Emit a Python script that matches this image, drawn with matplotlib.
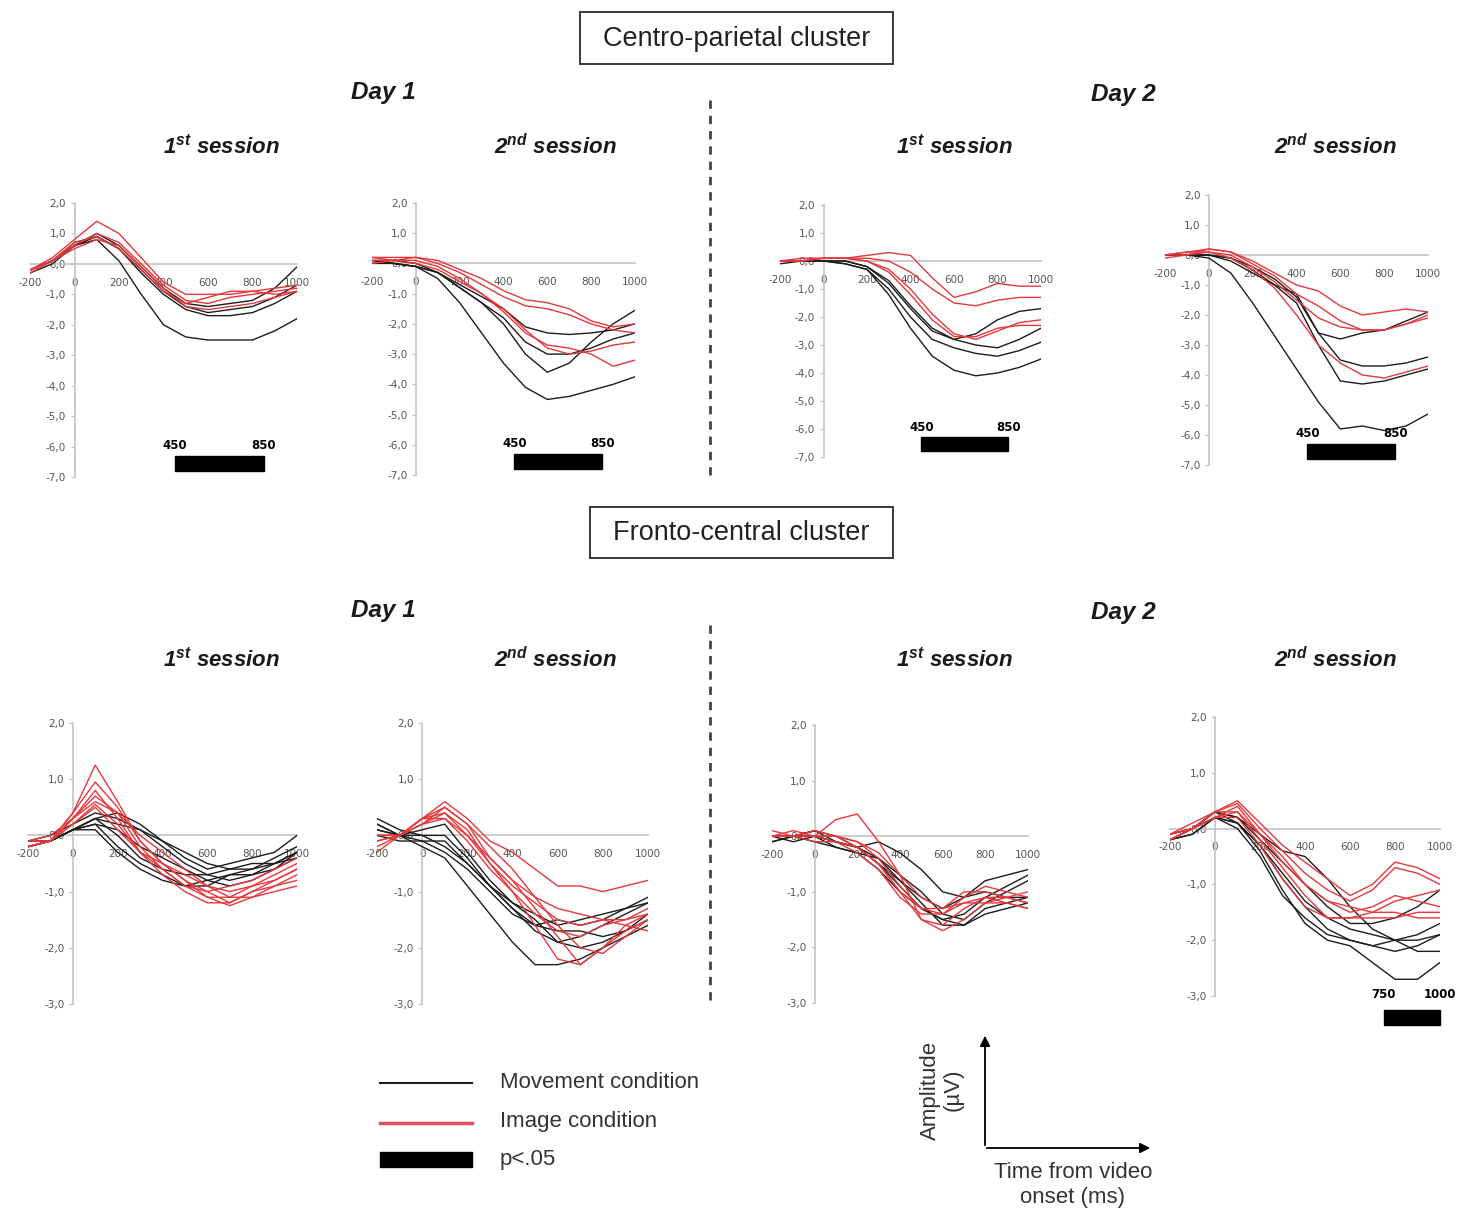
import numpy as np
import matplotlib
matplotlib.use('Agg')
import matplotlib.pyplot as plt
from matplotlib.patches import Rectangle, FancyArrowPatch
from matplotlib.lines import Line2D
from matplotlib.ticker import FuncFormatter

plt.rcParams['font.family'] = ['Liberation Sans', 'DejaVu Sans']
plt.rcParams['mathtext.fontset'] = 'custom'
plt.rcParams['mathtext.bf'] = 'Liberation Sans:italic:bold'
plt.rcParams['mathtext.rm'] = 'Liberation Sans'
plt.rcParams['axes.unicode_minus'] = False

W, H = 1466, 1217

# time axis (ms)
times = [-200, -100, 0, 100, 200, 300, 400, 500, 600, 700, 800, 900, 1000]

# ---- Centro-parietal cluster ----
cp_d1s1_move = [
    [-0.2, 0.1, 0.6, 0.8, 0.1, -1.0, -2.0, -2.4, -2.5, -2.5, -2.5, -2.2, -1.8],
    [-0.2, 0.1, 0.6, 0.9, 0.5, -0.3, -1.0, -1.5, -1.7, -1.7, -1.6, -1.3, -0.9],
    [-0.3, 0.0, 0.6, 1.0, 0.6, -0.1, -0.8, -1.3, -1.4, -1.3, -1.2, -0.8, -0.1],
    [-0.2, 0.1, 0.7, 0.9, 0.5, -0.2, -0.9, -1.4, -1.6, -1.5, -1.4, -1.1, -0.7],
]
cp_d1s1_image = [
    [-0.2, 0.2, 0.8, 1.4, 1.0, 0.2, -0.6, -1.0, -1.0, -1.0, -0.9, -0.8, -0.7],
    [-0.3, 0.1, 0.6, 1.0, 0.7, 0.0, -0.7, -1.2, -1.3, -1.1, -1.0, -0.9, -0.8],
    [-0.2, 0.1, 0.7, 0.9, 0.5, -0.2, -0.9, -1.3, -1.1, -0.9, -0.9, -1.0, -0.9],
    [-0.2, 0.1, 0.5, 0.8, 0.6, -0.1, -0.8, -1.4, -1.5, -1.4, -1.3, -1.1, -0.9],
]
cp_d1s2_move = [
    [0.1, 0.0, -0.1, -0.5, -1.3, -2.3, -3.3, -4.1, -4.5, -4.4, -4.2, -4.0, -3.75],
    [0.1, 0.0, -0.1, -0.3, -0.8, -1.3, -2.0, -3.0, -3.6, -3.3, -2.6, -2.0, -1.55],
    [0.0, 0.0, -0.1, -0.3, -0.7, -1.1, -1.5, -2.1, -2.3, -2.35, -2.3, -2.2, -2.0],
    [0.1, 0.1, 0.0, -0.3, -0.8, -1.3, -1.8, -2.6, -3.0, -3.0, -2.8, -2.5, -2.3],
]
cp_d1s2_image = [
    [0.2, 0.2, 0.2, 0.1, -0.2, -0.5, -0.9, -1.2, -1.3, -1.5, -1.9, -2.1, -2.0],
    [0.2, 0.1, 0.2, 0.0, -0.3, -0.7, -1.1, -1.4, -1.5, -1.7, -2.0, -2.2, -2.3],
    [0.0, 0.1, 0.1, -0.1, -0.5, -1.0, -1.6, -2.3, -2.7, -2.8, -3.0, -3.4, -3.2],
    [0.1, 0.1, 0.0, -0.2, -0.6, -1.0, -1.5, -2.2, -2.8, -3.0, -2.9, -2.7, -2.6],
]
cp_d2s1_move = [
    [-0.1, 0.0, 0.0, -0.1, -0.3, -1.2, -2.4, -3.4, -3.9, -4.1, -4.0, -3.8, -3.5],
    [0.0, 0.0, 0.0, -0.1, -0.3, -1.0, -2.0, -2.8, -3.1, -3.3, -3.4, -3.2, -2.9],
    [0.0, 0.0, 0.0, 0.0, -0.2, -0.8, -1.7, -2.5, -2.8, -3.0, -3.1, -2.8, -2.4],
    [0.0, 0.0, 0.0, 0.0, -0.2, -0.7, -1.6, -2.4, -2.8, -2.6, -2.1, -1.8, -1.7],
]
cp_d2s1_image = [
    [0.0, 0.0, 0.1, 0.1, 0.2, 0.3, 0.2, -0.6, -1.3, -1.1, -0.8, -0.9, -0.9],
    [0.0, 0.0, 0.1, 0.1, 0.1, 0.0, -0.4, -1.0, -1.5, -1.6, -1.4, -1.3, -1.3],
    [0.0, 0.0, 0.1, 0.1, 0.0, -0.3, -1.0, -1.9, -2.6, -2.8, -2.5, -2.2, -2.1],
    [0.0, 0.1, 0.1, 0.1, 0.0, -0.4, -1.2, -2.1, -2.7, -2.7, -2.4, -2.3, -2.3],
]
cp_d2s2_move = [
    [0.0, 0.0, -0.1, -0.6, -1.6, -2.7, -3.8, -4.9, -5.8, -5.7, -5.85, -5.7, -5.3],
    [0.0, 0.0, 0.0, -0.2, -0.6, -1.0, -1.3, -2.6, -3.5, -3.7, -3.7, -3.6, -3.4],
    [0.0, 0.0, 0.0, -0.1, -0.5, -1.0, -1.6, -3.0, -4.2, -4.3, -4.2, -4.0, -3.8],
    [0.0, 0.0, 0.0, -0.1, -0.4, -0.8, -1.4, -2.6, -2.8, -2.6, -2.5, -2.2, -1.9],
]
cp_d2s2_image = [
    [0.0, 0.1, 0.2, 0.1, -0.2, -0.6, -1.0, -1.2, -1.7, -2.0, -1.9, -1.8, -1.9],
    [-0.1, 0.0, 0.2, 0.1, -0.3, -0.7, -1.3, -1.7, -2.2, -2.5, -2.5, -2.3, -2.0],
    [0.0, 0.0, 0.1, -0.1, -0.5, -1.1, -2.0, -3.0, -3.6, -4.0, -4.1, -3.9, -3.7],
    [0.0, 0.1, 0.1, 0.0, -0.4, -0.9, -1.5, -2.1, -2.4, -2.5, -2.5, -2.3, -2.1],
]

# ---- Fronto-central cluster ----
fc_d1s1_move = [
    [-0.2, -0.1, 0.1, 0.3, 0.4, 0.2, -0.1, -0.4, -0.6, -0.5, -0.4, -0.3, 0.0],
    [-0.1, -0.1, 0.1, 0.2, -0.2, -0.5, -0.7, -0.9, -0.9, -0.7, -0.6, -0.5, -0.3],
    [-0.2, -0.1, 0.1, 0.3, 0.2, 0.1, -0.1, -0.3, -0.5, -0.6, -0.6, -0.4, -0.2],
    [-0.1, -0.1, 0.1, 0.1, -0.3, -0.6, -0.8, -0.9, -0.8, -0.7, -0.7, -0.6, -0.4],
    [-0.2, -0.1, 0.1, 0.2, 0.1, -0.2, -0.4, -0.6, -0.8, -0.9, -0.8, -0.6, -0.3],
    [-0.1, 0.0, 0.2, 0.4, 0.3, 0.1, -0.2, -0.5, -0.7, -0.8, -0.7, -0.5, -0.3],
    [-0.2, -0.1, 0.1, 0.3, 0.0, -0.4, -0.6, -0.7, -0.7, -0.6, -0.5, -0.5, -0.4],
]
fc_d1s1_image = [
    [-0.2, -0.1, 0.4, 1.25, 0.6, -0.1, -0.5, -0.8, -1.1, -1.25, -1.1, -0.9, -0.7],
    [-0.1, -0.1, 0.4, 0.95, 0.5, -0.1, -0.5, -0.8, -1.0, -1.2, -1.0, -0.8, -0.6],
    [-0.2, -0.1, 0.3, 0.7, 0.4, -0.2, -0.6, -0.9, -1.1, -1.1, -0.9, -0.7, -0.5],
    [-0.1, 0.0, 0.3, 0.8, 0.3, -0.3, -0.7, -1.0, -1.2, -1.2, -1.0, -0.9, -0.8],
    [-0.2, -0.1, 0.2, 0.55, 0.2, -0.3, -0.5, -0.7, -0.9, -1.0, -0.9, -0.8, -0.6],
    [-0.1, -0.1, 0.3, 0.6, 0.4, 0.0, -0.3, -0.6, -0.9, -1.1, -1.1, -1.0, -0.9],
    [-0.2, -0.1, 0.2, 0.5, 0.1, -0.3, -0.6, -0.9, -1.0, -0.9, -0.8, -0.6, -0.4],
]
fc_d1s2_move = [
    [0.2, 0.0, -0.2, -0.4, -0.9, -1.4, -1.9, -2.3, -2.3, -2.2, -2.0, -1.8, -1.6],
    [0.1, 0.0, -0.1, -0.3, -0.6, -1.0, -1.4, -1.6, -1.5, -1.6, -1.5, -1.3, -1.1],
    [0.3, 0.1, 0.0, 0.0, -0.4, -0.9, -1.3, -1.7, -1.9, -1.8, -1.6, -1.4, -1.2],
    [0.0, -0.1, -0.1, -0.1, -0.5, -0.9, -1.3, -1.6, -1.7, -1.7, -1.8, -1.7, -1.5],
    [0.1, 0.0, 0.1, 0.2, -0.3, -0.8, -1.2, -1.5, -1.9, -2.0, -1.9, -1.7, -1.4],
    [0.2, 0.0, 0.0, -0.2, -0.5, -0.9, -1.2, -1.4, -1.6, -1.5, -1.4, -1.3, -1.2],
]
fc_d1s2_image = [
    [0.0, 0.0, 0.3, 0.6, 0.3, -0.1, -0.3, -0.6, -0.9, -0.9, -1.0, -0.9, -0.8],
    [-0.2, 0.0, 0.3, 0.5, 0.2, -0.4, -0.8, -1.3, -1.8, -2.3, -2.0, -1.6, -1.4],
    [-0.1, 0.0, 0.2, 0.4, 0.1, -0.5, -1.0, -1.6, -2.2, -2.3, -2.0, -1.7, -1.5],
    [0.0, 0.0, 0.3, 0.4, 0.0, -0.5, -0.9, -1.2, -1.5, -1.6, -1.5, -1.5, -1.3],
    [-0.3, 0.0, 0.3, 0.3, -0.1, -0.6, -1.0, -1.4, -1.7, -1.8, -1.6, -1.5, -1.4],
    [-0.1, 0.0, 0.2, 0.3, 0.0, -0.4, -0.8, -1.1, -1.3, -1.4, -1.5, -1.6, -1.7],
    [0.0, 0.0, 0.2, 0.5, 0.2, -0.2, -0.6, -1.1, -1.6, -2.0, -2.1, -1.8, -1.5],
]
fc_d2s1_move = [
    [0.0, 0.0, 0.1, -0.1, -0.2, -0.1, -0.3, -0.6, -1.0, -1.1, -0.8, -0.7, -0.6],
    [0.0, -0.1, 0.0, -0.2, -0.3, -0.4, -0.7, -1.0, -1.4, -1.5, -1.2, -1.0, -0.8],
    [-0.1, 0.0, 0.0, -0.1, -0.2, -0.5, -0.9, -1.3, -1.5, -1.6, -1.3, -1.2, -1.1],
    [0.0, 0.0, -0.1, -0.2, -0.3, -0.6, -1.0, -1.3, -1.5, -1.4, -1.1, -0.9, -0.7],
    [-0.1, 0.0, 0.0, -0.1, -0.2, -0.4, -0.8, -1.2, -1.6, -1.6, -1.4, -1.3, -1.2],
    [0.0, 0.0, 0.1, 0.0, -0.2, -0.5, -0.8, -1.1, -1.3, -1.1, -1.0, -1.1, -1.1],
]
fc_d2s1_image = [
    [0.0, 0.0, 0.0, 0.3, 0.4, -0.1, -0.7, -1.5, -1.7, -1.5, -1.2, -1.2, -1.3],
    [0.0, 0.0, -0.1, -0.1, -0.2, -0.5, -1.0, -1.5, -1.6, -1.3, -1.1, -1.1, -1.2],
    [0.1, 0.0, 0.0, 0.0, -0.1, -0.4, -0.9, -1.3, -1.4, -1.1, -0.9, -1.0, -1.1],
    [0.0, 0.0, 0.0, 0.0, -0.2, -0.5, -1.0, -1.3, -1.3, -1.0, -1.0, -1.1, -1.2],
    [0.0, 0.0, 0.1, 0.0, -0.1, -0.3, -0.7, -1.1, -1.3, -1.2, -1.1, -1.2, -1.3],
    [0.0, 0.1, 0.0, -0.1, -0.3, -0.6, -1.1, -1.4, -1.4, -1.2, -1.2, -1.1, -1.0],
]
fc_d2s2_move = [
    [-0.2, -0.1, 0.2, 0.1, -0.4, -1.1, -1.7, -2.0, -2.1, -2.4, -2.7, -2.7, -2.4],
    [-0.2, 0.0, 0.3, 0.1, -0.3, -0.9, -1.4, -1.8, -2.0, -2.1, -2.0, -2.2, -2.2],
    [-0.1, 0.0, 0.2, 0.0, -0.5, -1.2, -1.6, -1.9, -2.0, -2.1, -2.2, -2.1, -1.9],
    [-0.2, 0.0, 0.3, 0.2, -0.2, -0.6, -1.0, -1.4, -1.7, -1.7, -1.6, -1.4, -1.1],
    [-0.2, -0.1, 0.2, 0.1, -0.3, -0.8, -1.3, -1.6, -1.8, -1.9, -2.0, -1.9, -1.7],
    [-0.1, 0.0, 0.3, 0.2, -0.1, -0.4, -0.5, -0.9, -1.4, -1.8, -2.0, -2.0, -1.9],
]
fc_d2s2_image = [
    [-0.2, 0.0, 0.3, 0.5, 0.1, -0.3, -0.6, -0.9, -1.2, -1.0, -0.6, -0.7, -0.9],
    [-0.1, 0.0, 0.3, 0.45, 0.0, -0.4, -0.8, -1.1, -1.3, -1.1, -0.7, -0.8, -1.0],
    [-0.2, 0.0, 0.2, 0.4, -0.1, -0.6, -1.0, -1.3, -1.4, -1.5, -1.5, -1.6, -1.6],
    [-0.1, 0.1, 0.3, 0.3, -0.2, -0.7, -1.2, -1.6, -1.6, -1.5, -1.3, -1.2, -1.1],
    [-0.2, 0.0, 0.2, 0.3, -0.1, -0.5, -1.0, -1.3, -1.5, -1.4, -1.2, -1.3, -1.4],
    [-0.1, 0.0, 0.2, 0.2, -0.3, -0.9, -1.4, -1.6, -1.6, -1.6, -1.6, -1.5, -1.5],
]

# significant windows (ms)
cp_sig = (450, 850)
fc_sig = (750, 1000)

x_ticks = [-200, 0, 200, 400, 600, 800, 1000]
cp_yticks = [2, 1, 0, -1, -2, -3, -4, -5, -6, -7]
fc_yticks = [2, 1, 0, -1, -2, -3]

MOVE_C = '#1c1c1c'
IMG_C = '#e4383c'

fig = plt.figure(figsize=(W / 100, H / 100), dpi=100)


def px_rect(x0, x1, y0, y1):
    # pixel box -> figure fraction
    return [x0 / W, 1 - y1 / H, (x1 - x0) / W, (y1 - y0) / H]


def fx(x):
    return x / W


def fy(y):
    return 1 - y / H


comma = FuncFormatter(lambda v, p: ('%.1f' % v).replace('.', ','))
plain = FuncFormatter(lambda v, p: '%d' % v)


def draw_panel(box, yticks, move, image, sig=None, sig_y=None):
    ax = fig.add_axes(px_rect(*box))
    ax.set_xlim(-200, 1000)
    ax.set_ylim(yticks[-1], yticks[0])
    for c in move:
        ax.plot(times, c, color=MOVE_C, lw=1.0, zorder=3)
    for c in image:
        ax.plot(times, c, color=IMG_C, lw=1.0, zorder=3)
    ax.patch.set_alpha(0)
    for s in ['top', 'right']:
        ax.spines[s].set_visible(False)
    ax.spines['left'].set_position(('data', 0))
    ax.spines['bottom'].set_position(('data', 0))
    for s in ['left', 'bottom']:
        ax.spines[s].set_color('#c4c4c4')
        ax.spines[s].set_linewidth(1.2)
    ax.set_xticks(x_ticks)
    ax.set_yticks(yticks)
    ax.xaxis.set_major_formatter(plain)
    ax.yaxis.set_major_formatter(comma)
    ax.tick_params(axis='x', length=0, labelsize=7.5, labelcolor='#555555', pad=10)
    ax.tick_params(axis='y', length=3, color='#c4c4c4', labelsize=7.5,
                   labelcolor='#555555', pad=3)
    for lab in ax.get_xticklabels() + ax.get_yticklabels():
        lab.set_fontfamily('DejaVu Sans')
    if sig is not None:
        lab_y, bar_lo, bar_hi = sig_y
        ax.add_patch(Rectangle((sig[0], bar_lo), sig[1] - sig[0], bar_hi - bar_lo,
                               color='black', clip_on=False, zorder=4))
        for t in sig:
            ax.text(t, lab_y, str(t), ha='center', va='center', fontsize=8.5,
                    fontweight='bold', family='DejaVu Sans', clip_on=False)
    return ax


# top row: Centro-parietal
draw_panel((30, 297, 203, 477), cp_yticks, cp_d1s1_move, cp_d1s1_image, cp_sig, (-5.95, -6.8, -6.3))
draw_panel((372, 635, 203, 475), cp_yticks, cp_d1s2_move, cp_d1s2_image, cp_sig, (-5.95, -6.8, -6.3))
draw_panel((780, 1041, 205, 457), cp_yticks, cp_d2s1_move, cp_d2s1_image, cp_sig, (-5.95, -6.8, -6.3))
draw_panel((1165, 1428, 195, 465), cp_yticks, cp_d2s2_move, cp_d2s2_image, cp_sig, (-5.95, -6.8, -6.3))

# bottom row: Fronto-central
draw_panel((28, 297, 723, 1004), fc_yticks, fc_d1s1_move, fc_d1s1_image)
draw_panel((377, 648, 723, 1004), fc_yticks, fc_d1s2_move, fc_d1s2_image)
draw_panel((772, 1028, 725, 1003), fc_yticks, fc_d2s1_move, fc_d2s1_image)
draw_panel((1170, 1440, 717, 996), fc_yticks, fc_d2s2_move, fc_d2s2_image, fc_sig, (-2.97, -3.52, -3.25))

# cluster boxes
for (x0, x1, y0, y1, name) in [(580, 893, 12, 64, 'Centro-parietal cluster'),
                               (590, 893, 507, 558, 'Fronto-central cluster')]:
    fig.add_artist(Rectangle((fx(x0), fy(y1)), (x1 - x0) / W, (y1 - y0) / H,
                             transform=fig.transFigure, fill=False,
                             ec='#3a3a3a', lw=1.4))
    fig.text(fx((x0 + x1) / 2), fy((y0 + y1) / 2 + 1), name, ha='center', va='center',
             fontsize=19.5, color='#222222')

# day / session headers
bi = dict(fontweight='bold', fontstyle='italic', color='#1a1a1a', ha='center', va='center')
for yday, ysess in [(92, 147), (610, 660)]:
    fig.text(fx(383), fy(yday), 'Day 1', fontsize=17.5, **bi)
    fig.text(fx(1123), fy(yday + 2), 'Day 2', fontsize=17.5, **bi)
    for xc, s in [(222, '1$^{\\mathbf{st}}$ session'), (555, '2$^{\\mathbf{nd}}$ session'),
                  (955, '1$^{\\mathbf{st}}$ session'), (1335, '2$^{\\mathbf{nd}}$ session')]:
        fig.text(fx(xc), fy(ysess), s, fontsize=16, **bi)

# dashed separators
for y0, y1 in [(100, 480), (625, 1005)]:
    fig.add_artist(Line2D([fx(710), fx(710)], [fy(y0), fy(y1)], transform=fig.transFigure,
                          color='#444444', lw=2.0, ls=(0, (3, 2.5))))

# legend
fig.add_artist(Line2D([fx(380), fx(472)], [fy(1083), fy(1083)], transform=fig.transFigure,
                      color=MOVE_C, lw=1.5))
fig.add_artist(Line2D([fx(380), fx(472)], [fy(1123), fy(1123)], transform=fig.transFigure,
                      color='#e0505a', lw=2.5))
fig.add_artist(Rectangle((fx(380), fy(1167)), 92 / W, 15 / H, transform=fig.transFigure,
                         color='black'))
for y, s in [(1082, 'Movement condition'), (1121, 'Image condition'), (1159, 'p<.05')]:
    fig.text(fx(500), fy(y), s, ha='left', va='center', fontsize=16, color='#333333')

# axis key
fig.add_artist(FancyArrowPatch((fx(985), fy(1148)), (fx(985), fy(1033)),
                               transform=fig.transFigure, arrowstyle='-|>,head_length=6,head_width=3',
                               color='black', lw=1.3))
fig.add_artist(FancyArrowPatch((fx(984), fy(1148)), (fx(1153), fy(1148)),
                               transform=fig.transFigure, arrowstyle='-|>,head_length=6,head_width=3',
                               color='black', lw=1.3))
fig.text(fx(942), fy(1090), 'Amplitude\n(µV)', rotation=90, ha='center', va='center',
         fontsize=16, color='#333333', linespacing=1.1)
fig.text(fx(1073), fy(1185), 'Time from video\nonset (ms)', ha='center', va='center',
         fontsize=16, color='#333333', linespacing=1.3)

fig.savefig('out.png', dpi=100)
